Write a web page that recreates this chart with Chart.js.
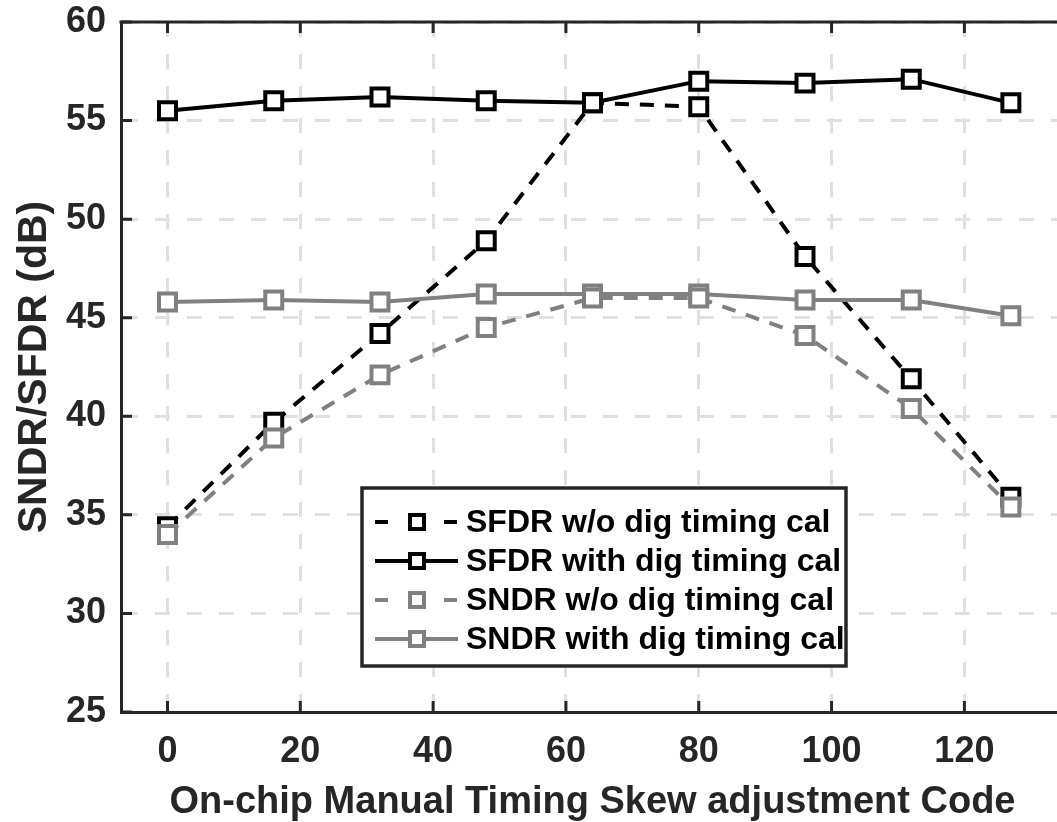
<!DOCTYPE html>
<html>
<head>
<meta charset="utf-8">
<script src="https://cdn.jsdelivr.net/npm/chart.js@4.4.1/dist/chart.umd.min.js"></script>
<style>
  html, body { margin: 0; padding: 0; background: #fff; overflow: hidden; }
  #wrap { width: 1080px; height: 822px; }
</style>
</head>
<body>
<div id="wrap"><canvas id="skewChart" width="1080" height="822"></canvas></div>
<script>
// skew codes swept on the x axis
const codes = [0, 16, 32, 48, 64, 80, 96, 112, 127];
const sfdrNoCal = [34.4, 39.7, 44.2, 48.9, 55.9, 55.7, 48.1, 41.9, 35.9];
const sfdrCal = [55.5, 56.0, 56.2, 56.0, 55.9, 57.0, 56.9, 57.1, 55.9];
const sndrNoCal = [34.0, 38.9, 42.1, 44.5, 46.0, 46.0, 44.1, 40.4, 35.4];
const sndrCal = [45.8, 45.9, 45.8, 46.2, 46.2, 46.2, 45.9, 45.9, 45.1];

const xTicks = [0, 20, 40, 60, 80, 100, 120];
const yTicks = [25, 30, 35, 40, 45, 50, 55, 60];

const seriesNames = [
  "SFDR w/o dig timing cal",
  "SFDR with dig timing cal",
  "SNDR w/o dig timing cal",
  "SNDR with dig timing cal"
];

const axisColor = "#262626";
const gray = "#808080";
const fontFam = "'Liberation Sans', Arial, sans-serif";

function pts(vals) {
  return codes.map(function (c, i) { return { x: c, y: vals[i] }; });
}

function makeSet(label, vals, color, dashed, order) {
  return {
    label: label,
    data: pts(vals),
    borderColor: color,
    borderWidth: 4,
    borderDash: dashed ? [14, 11] : [],
    pointStyle: "rect",
    pointRadius: 12,
    pointBorderWidth: 4,
    pointBorderColor: color,
    pointBackgroundColor: "#fff",
    tension: 0,
    order: order
  };
}

// inward ticks + top frame line
const frameTicks = {
  id: "frameTicks",
  afterDraw(chart) {
    const ctx = chart.ctx;
    const a = chart.chartArea;
    const xs = chart.scales.x, ys = chart.scales.y;
    ctx.save();
    ctx.strokeStyle = axisColor;
    ctx.lineWidth = 3;
    ctx.beginPath();
    ctx.moveTo(a.left - 1.5, a.top);
    ctx.lineTo(a.right, a.top);
    ctx.stroke();
    ctx.beginPath();
    xTicks.forEach(function (t) {
      const px = xs.getPixelForValue(t);
      ctx.moveTo(px, a.bottom);
      ctx.lineTo(px, a.bottom - 11);
      ctx.moveTo(px, a.top);
      ctx.lineTo(px, a.top + 11);
    });
    yTicks.forEach(function (t) {
      const py = ys.getPixelForValue(t);
      ctx.moveTo(a.left, py);
      ctx.lineTo(a.left + 11, py);
    });
    ctx.stroke();
    ctx.restore();
  }
};

// boxed legend inside the plot, like the original figure
const boxLegend = {
  id: "boxLegend",
  afterDraw(chart) {
    const ctx = chart.ctx;
    const left = 362, top = 488, right = 846, bottom = 666;
    const rows = [522, 561, 600, 639];
    const styles = [
      { color: "#000", dashed: true },
      { color: "#000", dashed: false },
      { color: gray, dashed: true },
      { color: gray, dashed: false }
    ];
    ctx.save();
    ctx.fillStyle = "#fff";
    ctx.fillRect(left, top, right - left, bottom - top);
    ctx.strokeStyle = axisColor;
    ctx.lineWidth = 3.5;
    ctx.strokeRect(left, top, right - left, bottom - top);

    rows.forEach(function (y, i) {
      const st = styles[i];
      ctx.strokeStyle = st.color;
      ctx.lineWidth = 4;
      ctx.beginPath();
      if (st.dashed) {
        ctx.moveTo(375, y); ctx.lineTo(388, y);
        ctx.moveTo(444, y); ctx.lineTo(457, y);
      } else {
        ctx.moveTo(375, y); ctx.lineTo(458, y);
      }
      ctx.stroke();
      ctx.fillStyle = "#fff";
      ctx.fillRect(410, y - 7, 14, 14);
      ctx.strokeRect(410, y - 7, 14, 14);

      ctx.fillStyle = "#000";
      ctx.font = "bold 32px " + fontFam;
      ctx.textAlign = "left";
      ctx.textBaseline = "alphabetic";
      ctx.fillText(seriesNames[i], 466, y + 10);
    });
    ctx.restore();
  }
};

const ctx = document.getElementById("skewChart");

new Chart(ctx, {
  type: "line",
  data: {
    datasets: [
      makeSet(seriesNames[0], sfdrNoCal, "#000", true, 2),
      makeSet(seriesNames[1], sfdrCal, "#000", false, 1),
      makeSet(seriesNames[2], sndrNoCal, gray, true, 0),
      makeSet(seriesNames[3], sndrCal, gray, false, 0)
    ]
  },
  options: {
    responsive: false,
    animation: false,
    layout: { padding: { top: 22, right: 8, left: 0, bottom: 0 } },
    plugins: {
      legend: { display: false },
      tooltip: { enabled: false }
    },
    scales: {
      x: {
        type: "linear",
        min: -7,
        max: 135,
        afterBuildTicks(scale) {
          scale.ticks = xTicks.map(function (v) { return { value: v }; });
        },
        afterFit(scale) {
          scale.height = 110;
          scale.paddingLeft = 0;
          scale.paddingRight = 0;
        },
        ticks: {
          color: axisColor,
          font: { family: fontFam, size: 36, weight: "bold" },
          padding: 18,
          maxRotation: 0
        },
        grid: { color: "#e0e0e0", lineWidth: 3, drawTicks: false },
        border: { display: true, color: axisColor, width: 3, dash: [15, 17] },
        title: {
          display: true,
          text: "On-chip Manual Timing Skew adjustment Code",
          color: axisColor,
          font: { family: fontFam, size: 38, weight: "bold", lineHeight: 1 },
          padding: { top: 0, bottom: 0 }
        }
      },
      y: {
        min: 25,
        max: 60,
        afterBuildTicks(scale) {
          scale.ticks = yTicks.map(function (v) { return { value: v }; });
        },
        afterFit(scale) {
          scale.width = 121;
          scale.paddingTop = 0;
          scale.paddingBottom = 0;
        },
        ticks: {
          color: axisColor,
          font: { family: fontFam, size: 36, weight: "bold" },
          padding: 15
        },
        grid: { color: "#e0e0e0", lineWidth: 3, drawTicks: false },
        border: { display: true, color: axisColor, width: 3, dash: [15, 17] },
        title: {
          display: true,
          text: "SNDR/SFDR (dB)",
          color: axisColor,
          font: { family: fontFam, size: 41, weight: "bold", lineHeight: 1 },
          padding: { top: 14, bottom: 0 }
        }
      }
    }
  },
  plugins: [frameTicks, boxLegend]
});
</script>
</body>
</html>
